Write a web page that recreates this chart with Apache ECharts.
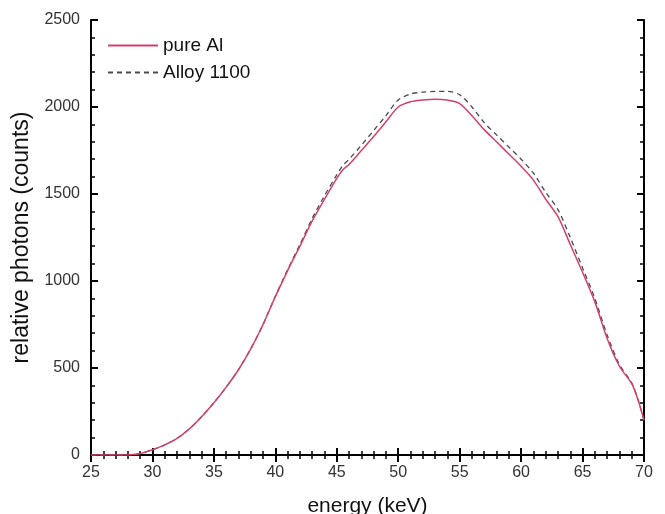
<!DOCTYPE html>
<html><head><meta charset="utf-8">
<script src="https://cdn.jsdelivr.net/npm/echarts@6/dist/echarts.min.js"></script>
<style>html,body{margin:0;padding:0;background:#fff}#c{width:665px;height:514px}</style>
</head><body><div id="c"></div>
<script>
const energy = [25,26,27,28,28.5,29,30,31,32,33,34,35,36,37,38,39,40,41,42,43,44,45,45.5,46,47,48,49,50,51,52,53,54,55,56,57,58,59,60,61,62,63,64,65,66,67,68,69,69.5,70];
const pureAl = [0,0,0,0,3,8,30,58,95,150,220,300,390,490,610,750,910,1060,1200,1345,1470,1590,1640,1670,1750,1830,1915,2000,2030,2040,2045,2040,2020,1950,1870,1800,1730,1660,1580,1470,1370,1210,1050,880,670,510,410,320,200];
const alloy1100 = [0,0,0,0,3,8,30,58,95,150,220,300,390,490,610,750,912,1065,1210,1360,1490,1610,1665,1700,1780,1865,1950,2040,2075,2085,2090,2090,2070,2000,1910,1840,1770,1700,1620,1510,1410,1250,1075,900,690,520,415,320,200];
const xTicks = [25,30,35,40,45,50,55,60,65,70];
const yTicks = [0,500,1000,1500,2000,2500];

const font = '"Liberation Sans", Arial, sans-serif';
const axisLine = {show:true, lineStyle:{color:'#000', width:2}};
const tick = {show:true, inside:true, length:7, lineStyle:{color:'#000', width:2}};
const minor = {show:true, splitNumber:5, length:4, lineStyle:{color:'#000', width:1.5}};
const chart = echarts.init(document.getElementById('c'));
chart.setOption({
  animation:false,
  backgroundColor:'#fff',
  grid:{left:91, right:21, top:20, bottom:59, containLabel:false, outerBoundsMode:'none'},
  legend:{
    orient:'vertical', left:102, top:31, itemWidth:50, itemHeight:14, itemGap:8,
    itemStyle:{opacity:0},
    textStyle:{fontFamily:font, fontSize:19, color:'#111'},
    data:['pure Al','Alloy 1100']
  },
  xAxis:[{
    type:'value', min:25, max:70, interval:5, position:'bottom',
    name:'energy (keV)', nameLocation:'middle', nameGap:41,
    nameTextStyle:{fontFamily:font, fontSize:21, color:'#111'},
    axisLine, axisTick:tick, minorTick:minor,
    axisLabel:{fontFamily:font, fontSize:16, color:'#333', margin:10, formatter:v=>xTicks.includes(v)?String(v):''},
    splitLine:{show:false}
  },{
    type:'value', min:25, max:70, interval:5, position:'top',
    axisLine, axisTick:tick, minorTick:minor,
    axisLabel:{show:false}, splitLine:{show:false}
  }],
  yAxis:[{
    type:'value', min:0, max:2500, interval:500, position:'left',
    name:'relative photons (counts)', nameLocation:'middle', nameGap:58, nameRotate:90,
    nameTextStyle:{fontFamily:font, fontSize:23, color:'#111'},
    axisLine, axisTick:tick, minorTick:minor,
    axisLabel:{fontFamily:font, fontSize:16, color:'#333', margin:11, formatter:v=>yTicks.includes(v)?String(v):''},
    splitLine:{show:false}
  },{
    type:'value', min:0, max:2500, interval:500, position:'right',
    axisLine, axisTick:tick, minorTick:minor,
    axisLabel:{show:false}, splitLine:{show:false}
  }],
  series:[{
    name:'Alloy 1100', type:'line', showSymbol:false, symbol:'none', smooth:0.3,
    data:energy.map((e,i)=>[e, alloy1100[i]]),
    lineStyle:{color:'#4a4a4a', width:1.3, type:[5,4]}, itemStyle:{color:'#4a4a4a'}, z:2
  },{
    name:'pure Al', type:'line', showSymbol:false, symbol:'none', smooth:0.3,
    data:energy.map((e,i)=>[e, pureAl[i]]),
    lineStyle:{color:'#d4406c', width:1.5}, itemStyle:{color:'#d4406c'}, z:3
  }]
});
</script></body></html>
